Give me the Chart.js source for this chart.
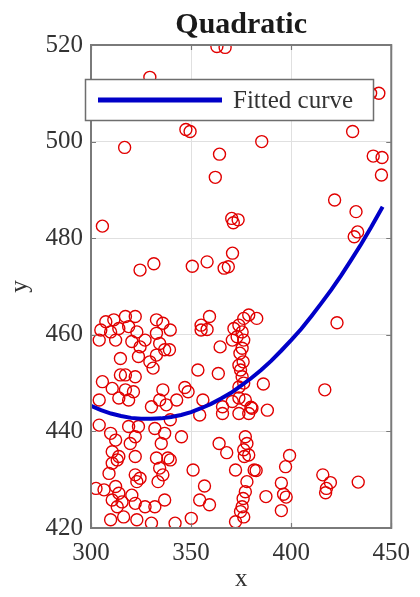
<!DOCTYPE html>
<html>
<head>
<meta charset="utf-8">
<script src="https://cdn.jsdelivr.net/npm/chart.js@4/dist/chart.umd.min.js"></script>
<style>
  html, body { margin: 0; padding: 0; background: #ffffff; }
  #wrap { width: 420px; height: 597px; }
</style>
</head>
<body>
<div id="wrap"><canvas id="chart" width="420" height="597"></canvas></div>
<script>
// Observed samples
const sampleX = [
  362.9, 367.0, 329.4, 439.7, 443.8, 347.4, 349.5, 316.8, 385.3, 430.7,
  364.2, 441.0, 445.4, 445.1, 362.1, 421.7, 432.4, 370.3, 373.5, 371.1,
  305.7, 433.2, 431.5, 370.7, 324.5, 331.4, 350.6, 358.0, 366.5, 368.6,
  422.9, 416.8, 386.1, 379.9, 388.1, 382.8, 399.2, 397.2, 382.5, 395.1,
  396.2, 397.5, 387.4, 395.1, 415.8, 419.6, 417.6, 417.2, 433.5,
  378.8, 376.3, 373.9, 371.4, 375.5, 370.6, 373.0, 376.3, 375.5, 374.4,
  376.0, 373.9, 374.7, 375.5, 364.5, 373.9, 376.3,
  355.0, 359.2, 355.0, 358.0, 339.6, 339.2, 353.4, 363.6, 346.9, 348.5,
  342.8, 355.9, 365.7, 370.6, 373.9, 377.1, 380.4,
  354.3, 365.7, 373.9, 378.8, 339.6, 345.2, 364.0, 367.8, 377.1, 377.9,
  376.3, 376.6, 378.8, 351.0, 372.2, 381.5, 356.7, 377.9, 377.1, 376.0,
  375.5, 376.3, 372.2, 374.7, 354.3, 359.2, 350.1, 342.0, 339.6,
  307.4, 311.4, 317.2, 322.1, 304.9, 309.8, 313.9, 318.8, 322.9, 304.1,
  312.3, 320.4, 327.0, 332.7, 335.9, 332.7, 334.3, 324.5, 336.8, 314.7,
  323.7, 329.4, 332.7, 331.0, 314.7, 317.2, 322.1, 305.7, 310.6, 317.2,
  321.2, 313.9, 318.8, 304.1, 335.9, 334.3, 330.2, 337.6,
  304.1, 309.8, 312.3, 318.8, 323.7, 322.1, 319.6, 322.1, 331.9, 336.8,
  335.1, 338.4, 332.7, 310.6, 313.9, 310.6, 313.1, 309.0, 334.3, 335.9,
  333.5, 322.1, 324.5, 322.9, 302.5, 306.5, 312.3, 313.9, 310.6, 315.5,
  313.1, 320.4, 322.1, 327.0, 331.9, 336.8, 309.8, 316.3, 322.9, 330.2
];
const sampleY = [
  519.7, 519.5, 513.3, 510.0, 510.0, 502.5, 502.1, 498.8, 500.0, 502.1,
  497.4, 497.0, 496.7, 493.1, 492.6, 487.9, 485.5, 484.1, 483.8, 483.2,
  482.5, 481.3, 480.3, 476.9, 473.4, 474.7, 474.2, 475.1, 473.8, 474.1,
  462.5, 448.6, 449.8, 445.0, 444.4, 463.4, 435.0, 432.7, 431.9, 429.3,
  427.0, 426.4, 426.5, 423.6, 431.0, 429.4, 428.2, 427.3, 429.5,
  464.1, 463.4, 462.0, 461.3, 460.6, 458.9, 459.6, 458.9, 457.2, 456.2,
  454.4, 453.7, 452.7, 451.3, 457.5, 449.2, 450.0,
  462.0, 463.8, 461.0, 461.1, 461.0, 456.9, 452.7, 452.0, 449.1, 448.2,
  446.5, 446.5, 445.1, 446.2, 446.9, 446.5, 444.8,
  443.4, 443.7, 443.7, 443.7, 442.4, 438.9, 437.5, 435.6, 438.9, 437.5,
  436.2, 434.8, 435.1, 432.0, 432.0, 432.0, 428.7, 429.6, 427.5, 426.1,
  424.4, 422.3, 421.3, 423.4, 425.8, 424.8, 422.0, 421.0, 434.1,
  462.7, 463.1, 463.8, 463.8, 461.0, 460.6, 461.3, 461.7, 460.6, 458.9,
  458.9, 458.6, 458.9, 460.3, 462.4, 463.1, 458.2, 457.5, 456.9, 455.1,
  455.5, 454.4, 455.8, 453.1, 451.7, 451.7, 451.3, 450.3, 448.9, 448.6,
  448.2, 446.9, 446.5, 446.5, 448.6, 446.5, 445.1, 445.5,
  441.3, 439.6, 438.2, 441.0, 441.0, 438.9, 437.5, 434.8, 440.6, 439.6,
  437.5, 434.5, 434.5, 435.8, 434.8, 433.4, 434.1, 431.3, 432.4, 431.0,
  429.6, 431.0, 430.3, 429.6, 428.2, 427.9, 428.6, 427.2, 425.8, 425.4,
  424.4, 426.8, 425.1, 424.4, 424.4, 425.8, 421.7, 422.3, 421.7, 421.0
];

// Fitted quadratic, sampled along x
const curveX = [300, 305, 310, 315, 320, 325, 330, 335, 340, 345, 350, 355, 360, 365, 370,
                375, 380, 385, 390, 395, 400, 405, 410, 415, 420, 425, 430, 435, 440, 445.7];
const curveY = [445.3, 444.4, 443.7, 443.2, 442.8, 442.6, 442.6, 442.7, 443.0, 443.4, 444.0, 444.8, 445.7, 446.8, 448.0,
                449.5, 451.0, 452.7, 454.6, 456.7, 458.9, 461.2, 463.8, 466.5, 469.3, 472.3, 475.5, 478.8, 482.3, 486.5];

const xTicks = [300, 350, 400, 450];
const yTicks = [420, 440, 460, 480, 500, 520];

const chartTitle = 'Quadratic';
const legendLabel = 'Fitted curve';
const xLabel = 'x';
const yLabel = 'y';

const SERIF = "'Liberation Serif', 'Times New Roman', serif";
const CURVE_COLOR = 'rgb(0, 0, 200)';
const MARKER_COLOR = 'rgb(225, 0, 0)';
const TEXT_COLOR = '#333333';
const FRAME_COLOR = '#7a7a7a';
const GRID_COLOR = '#e0e0e0';

// Box, inward ticks, title and legend, drawn MATLAB-style
const decorations = {
  id: 'decorations',
  afterDatasetsDraw(chart) {
    const { ctx, chartArea: a, scales } = chart;
    ctx.save();
    ctx.strokeStyle = FRAME_COLOR;
    ctx.lineWidth = 2;
    ctx.strokeRect(a.left, a.top, a.right - a.left, a.bottom - a.top);
    ctx.lineWidth = 1.2;
    ctx.beginPath();
    const tl = 5;
    for (const v of xTicks) {
      const px = Math.round(scales.x.getPixelForValue(v)) + 0.5;
      ctx.moveTo(px, a.bottom); ctx.lineTo(px, a.bottom - tl);
      ctx.moveTo(px, a.top); ctx.lineTo(px, a.top + tl);
    }
    for (const v of yTicks) {
      const py = Math.round(scales.y.getPixelForValue(v)) + 0.5;
      ctx.moveTo(a.left, py); ctx.lineTo(a.left + tl, py);
      ctx.moveTo(a.right, py); ctx.lineTo(a.right - tl, py);
    }
    ctx.stroke();
    ctx.restore();
  },
  afterDraw(chart) {
    const { ctx, chartArea: a } = chart;
    ctx.save();
    // title
    ctx.fillStyle = '#1a1a1a';
    ctx.font = 'bold 30px ' + SERIF;
    ctx.textAlign = 'center';
    ctx.textBaseline = 'alphabetic';
    ctx.fillText(chartTitle, (a.left + a.right) / 2, 33);

    // legend box
    const bx = 85, by = 79, bw = 288, bh = 41;
    ctx.fillStyle = '#ffffff';
    ctx.fillRect(bx, by, bw, bh);
    ctx.strokeStyle = '#6e6e6e';
    ctx.lineWidth = 1.5;
    ctx.strokeRect(bx + 0.5, by + 0.5, bw, bh);
    ctx.strokeStyle = CURVE_COLOR;
    ctx.lineWidth = 5;
    ctx.beginPath();
    ctx.moveTo(98, 100);
    ctx.lineTo(222, 100);
    ctx.stroke();
    ctx.fillStyle = TEXT_COLOR;
    ctx.font = '25px ' + SERIF;
    ctx.textAlign = 'left';
    ctx.fillText(legendLabel, 233, 108);
    ctx.restore();
  }
};

new Chart(document.getElementById('chart'), {
  type: 'scatter',
  data: {
    datasets: [
      {
        label: legendLabel,
        data: curveX.map((x, i) => ({ x, y: curveY[i] })),
        showLine: true,
        borderColor: CURVE_COLOR,
        borderWidth: 4,
        pointRadius: 0,
        fill: false,
        tension: 0,
        order: 0
      },
      {
        label: 'data',
        data: sampleX.map((x, i) => ({ x, y: sampleY[i] })),
        pointStyle: 'circle',
        pointRadius: 6,
        borderWidth: 1.4,
        borderColor: MARKER_COLOR,
        backgroundColor: 'rgba(0,0,0,0)',
        order: 1
      }
    ]
  },
  options: {
    responsive: false,
    animation: false,
    devicePixelRatio: 1,
    layout: { padding: { top: 45, right: 23, left: 0, bottom: 0 } },
    plugins: {
      legend: { display: false },
      tooltip: { enabled: false },
      title: { display: false }
    },
    scales: {
      x: {
        type: 'linear',
        min: 300,
        max: 450,
        afterBuildTicks: s => { s.ticks = xTicks.map(v => ({ value: v })); },
        afterFit: s => { s.height = 69; },
        ticks: { color: TEXT_COLOR, font: { family: SERIF, size: 25 }, padding: 10, maxRotation: 0 },
        grid: { color: GRID_COLOR, lineWidth: 1, drawTicks: false },
        border: { display: false },
        title: { display: true, text: xLabel, color: TEXT_COLOR, font: { family: SERIF, size: 25 }, padding: { top: 0, bottom: 3 } }
      },
      y: {
        type: 'linear',
        min: 420,
        max: 520,
        afterBuildTicks: s => { s.ticks = yTicks.map(v => ({ value: v })); },
        afterFit: s => { s.width = 91; },
        ticks: { color: TEXT_COLOR, font: { family: SERIF, size: 25 }, padding: 8 },
        grid: { color: GRID_COLOR, lineWidth: 1, drawTicks: false },
        border: { display: false },
        title: { display: true, text: yLabel, color: TEXT_COLOR, font: { family: SERIF, size: 25 }, padding: { top: 5, bottom: 0 } }
      }
    }
  },
  plugins: [decorations]
});
</script>
</body>
</html>
